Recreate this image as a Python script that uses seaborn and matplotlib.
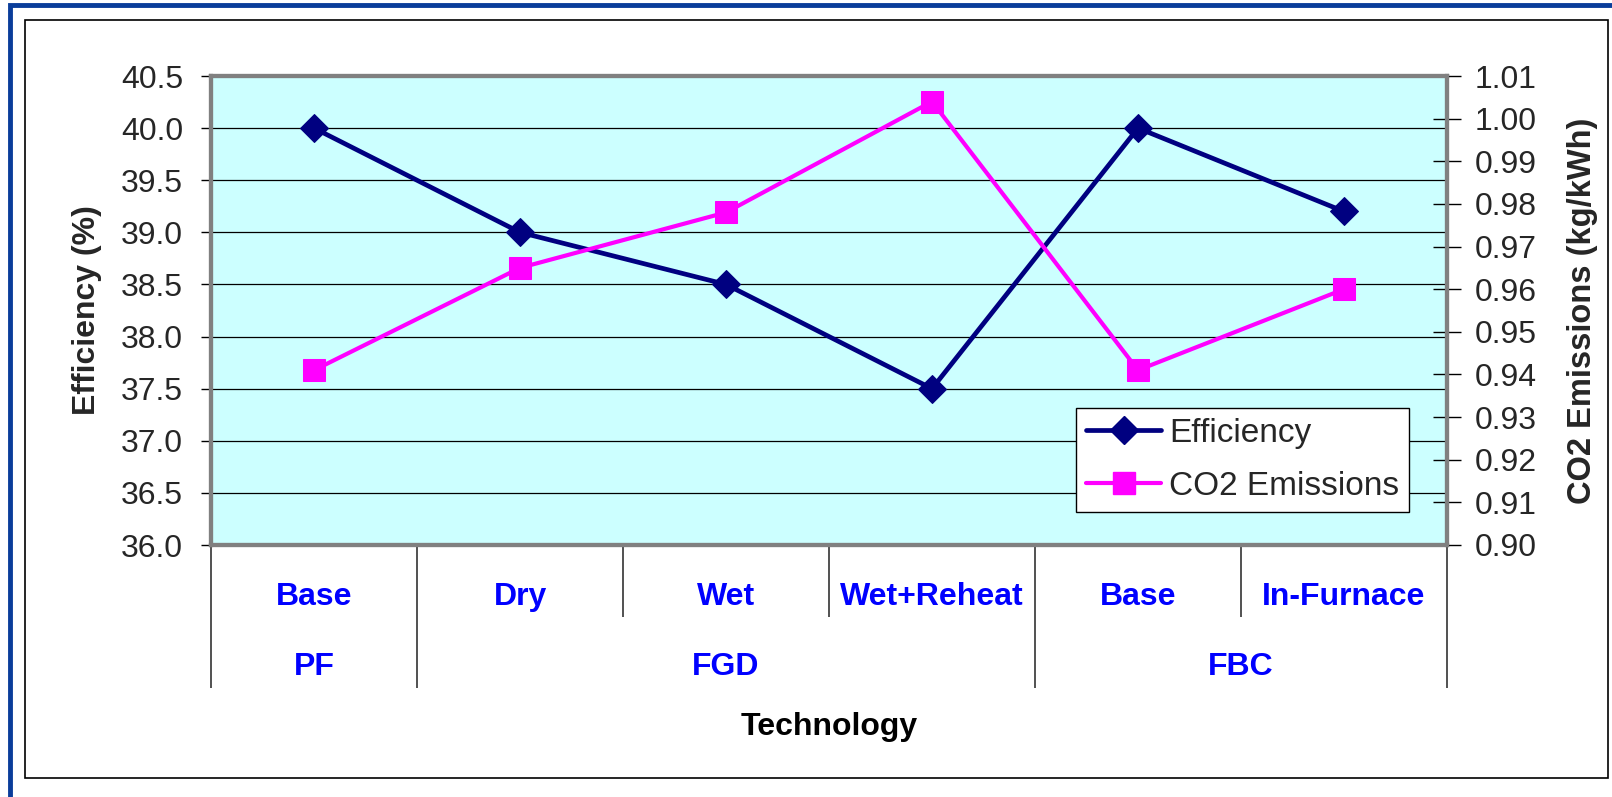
import pandas as pd
import numpy as np
import matplotlib
matplotlib.use('Agg')
import matplotlib.pyplot as plt
import matplotlib.transforms as mtransforms
from matplotlib.lines import Line2D
from matplotlib.patches import Rectangle
import seaborn as sns

# --- data ---
technologies = ['Base', 'Dry', 'Wet', 'Wet+Reheat', 'Base', 'In-Furnace']
groups = ['PF', 'FGD', 'FBC']
group_sizes = [1, 3, 2]
efficiency = [40.0, 39.0, 38.5, 37.5, 40.0, 39.2]
co2_emissions = [0.941, 0.965, 0.978, 1.004, 0.941, 0.960]

eff_ticks = [36.0, 36.5, 37.0, 37.5, 38.0, 38.5, 39.0, 39.5, 40.0, 40.5]
co2_ticks = [0.90, 0.91, 0.92, 0.93, 0.94, 0.95, 0.96, 0.97, 0.98, 0.99, 1.00, 1.01]

df = pd.DataFrame({
    'pos': np.arange(len(technologies)),
    'technology': technologies,
    'efficiency': efficiency,
    'co2': co2_emissions,
})

# --- style ---
sns.set_style('white')
plt.rcParams['font.family'] = ['Liberation Sans', 'DejaVu Sans']

NAVY = '#000080'
MAGENTA = '#FF00FF'
LABEL_BLUE = '#0000FF'
FS = 23

W, H = 1612, 797
fig = plt.figure(figsize=(W / 100, H / 100), dpi=100)

# outer frames (blue chart border + black chart area)
fig.patches.append(Rectangle((10 / W, -0.05), 1.2, 1.05 - 5 / H, transform=fig.transFigure,
                             fill=False, edgecolor='#0A3D9A', linewidth=3.5, zorder=0))
fig.patches.append(Rectangle((25 / W, 1 - 778 / H), (1608 - 25) / W, (778 - 20) / H,
                             transform=fig.transFigure, fill=False, edgecolor='black',
                             linewidth=1.2, zorder=0))

left, right, top, bottom = 211, 1447, 76, 545
ax = fig.add_axes([left / W, 1 - bottom / H, (right - left) / W, (bottom - top) / H])
ax.set_facecolor('#CCFFFF')
ax2 = ax.twinx()

sns.lineplot(data=df, x='pos', y='efficiency', ax=ax, color=NAVY, linewidth=3.4,
             marker='D', markersize=14.5, markeredgecolor=NAVY, zorder=4)
sns.lineplot(data=df, x='pos', y='co2', ax=ax2, color=MAGENTA, linewidth=3.0,
             marker='s', markersize=16, markeredgecolor=MAGENTA, zorder=4)

# left axis
ax.set_ylim(eff_ticks[0], eff_ticks[-1])
ax.set_yticks(eff_ticks)
ax.set_yticklabels([f'{t:.1f}' for t in eff_ticks], fontsize=FS)
ax.yaxis.grid(True, color='black', linewidth=0.9)
ax.set_axisbelow(True)
ax.tick_params(axis='y', direction='out', length=7, width=1, color='black', pad=13, left=True)
ax.set_ylabel('Efficiency (%)', fontsize=FS, fontweight='bold', labelpad=14)

# right axis
ax2.set_ylim(co2_ticks[0], co2_ticks[-1])
ax2.set_yticks(co2_ticks)
ax2.set_yticklabels([f'{t:.2f}' for t in co2_ticks], fontsize=FS)
ax2.tick_params(axis='y', direction='inout', length=20, width=1, color='black', pad=10, right=True)
ax2.set_ylabel('CO2 Emissions (kg/kWh)', fontsize=23.5, fontweight='bold', labelpad=22)

# category axis: boundaries as ticks, labels as text
n = len(technologies)
ax.set_xlim(-0.5, n - 0.5)
bounds = np.cumsum([0] + group_sizes) - 0.5
inner = [b for b in np.arange(-0.5, n) if b not in bounds]
ax.set_xticks(bounds)
ax.set_xticklabels([])
ax.set_xticks(inner, minor=True)
ax.tick_params(axis='x', which='major', direction='out', length=103, width=1.2,
               color='#333333', bottom=True)
ax.tick_params(axis='x', which='minor', direction='out', length=52, width=1.2,
               color='#333333', bottom=True)
ax.set_xlabel('')

trans = mtransforms.blended_transform_factory(ax.transData, ax.transAxes)
row1_y = (bottom - 597) / (bottom - top)
row2_y = (bottom - 667) / (bottom - top)
title_y = (bottom - 727) / (bottom - top)
for i, name in enumerate(technologies):
    ax.text(i, row1_y, name, transform=trans, ha='center', va='center',
            fontsize=FS, fontweight='bold', color=LABEL_BLUE)
start = 0
for g, size in zip(groups, group_sizes):
    centre = start + (size - 1) / 2
    ax.text(centre, row2_y, g, transform=trans, ha='center', va='center',
            fontsize=FS, fontweight='bold', color=LABEL_BLUE)
    start += size
ax.text(0.5, title_y, 'Technology', transform=ax.transAxes, ha='center', va='center',
        fontsize=FS, fontweight='bold', color='black')

# plot-area border
for a in (ax, ax2):
    for s in a.spines.values():
        s.set_color('#808080')
        s.set_linewidth(3)

# legend
if ax.get_legend():
    ax.get_legend().remove()
handles = [
    Line2D([], [], color=NAVY, linewidth=3.4, marker='D', markersize=14.5, markeredgecolor=NAVY),
    Line2D([], [], color=MAGENTA, linewidth=3.0, marker='s', markersize=16, markeredgecolor=MAGENTA),
]
leg = ax2.legend(handles, ['Efficiency', 'CO2 Emissions'], loc='upper left',
                 bbox_to_anchor=(1076 / W, 1 - 408 / H), bbox_transform=fig.transFigure,
                 fontsize=24, frameon=True, fancybox=False, framealpha=1,
                 edgecolor='black', handlelength=2.25, handletextpad=0.25,
                 labelspacing=0.66, borderpad=0.3, borderaxespad=0)
leg.get_frame().set_linewidth(1.0)

fig.savefig('out.png', dpi=100)
